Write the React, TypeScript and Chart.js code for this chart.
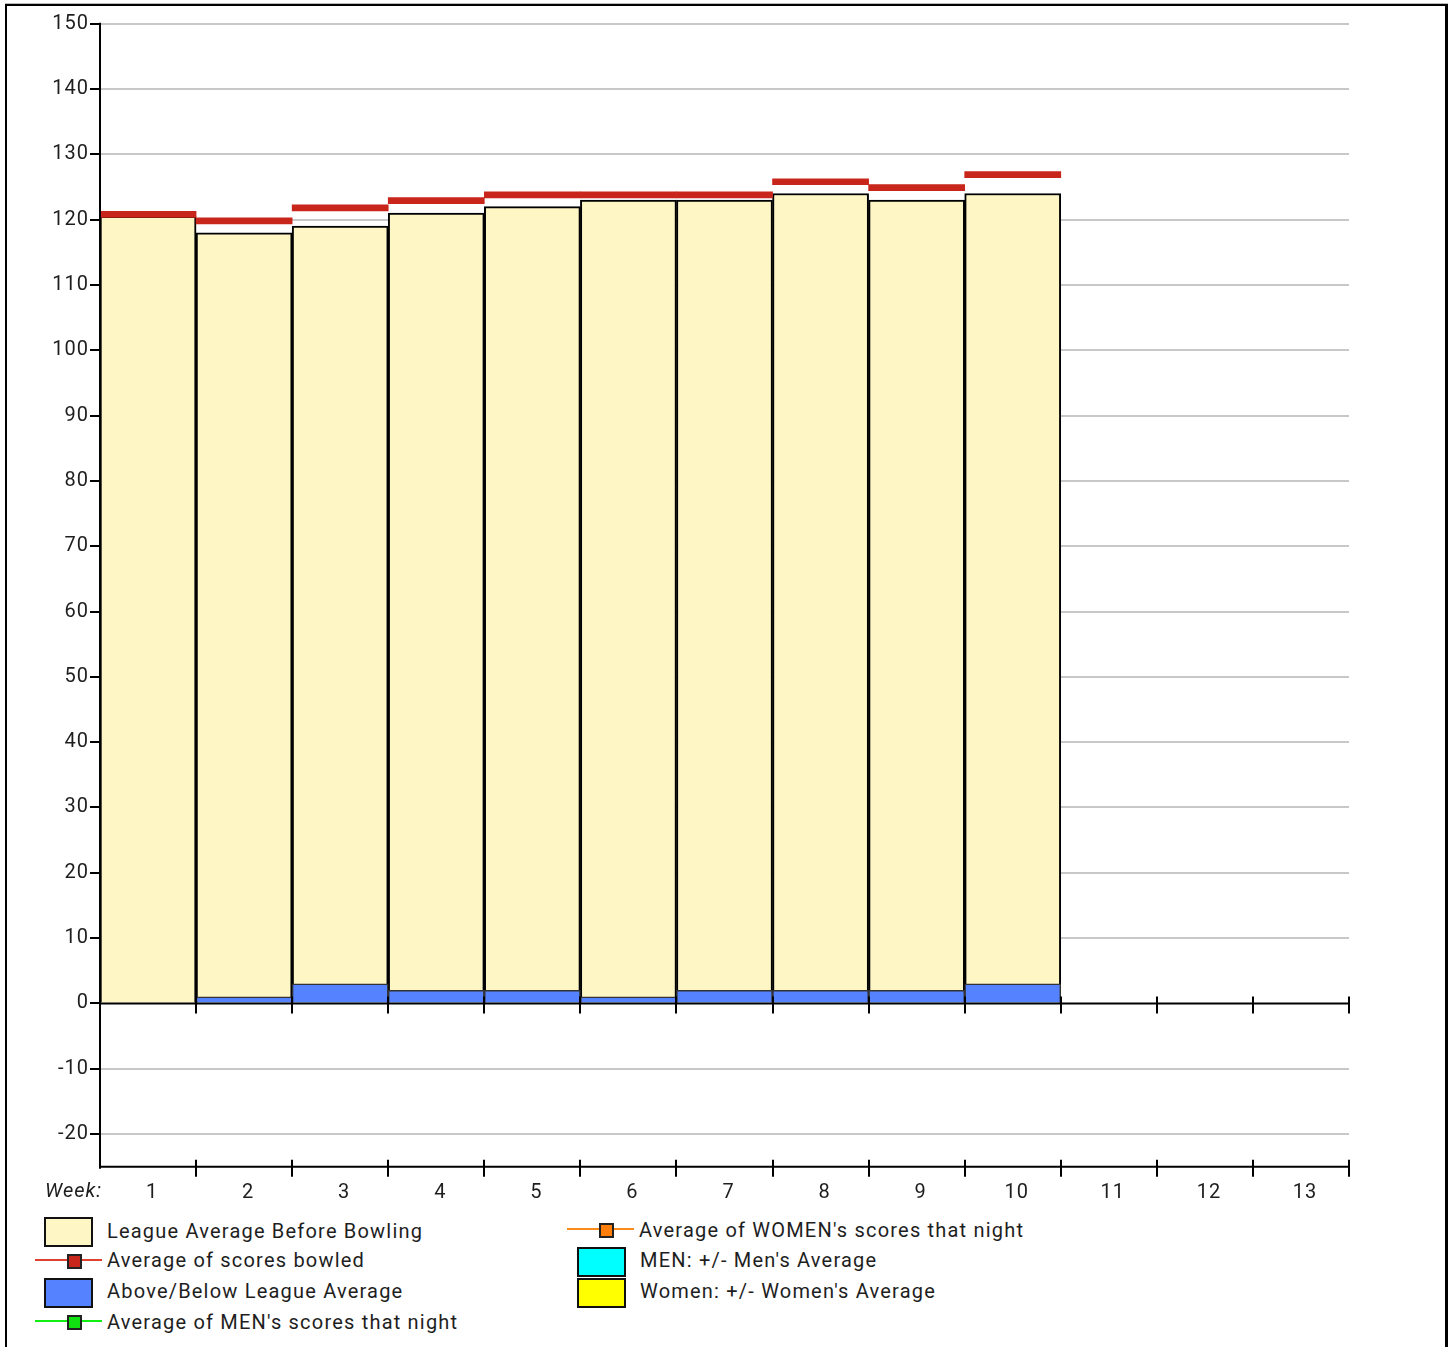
import React, { useEffect, useRef } from 'react';
import { Chart, registerables } from 'chart.js';

Chart.register(...registerables);

const weeks = ['1', '2', '3', '4', '5', '6', '7', '8', '9', '10', '11', '12', '13'];
const leagueAverage = [120.5, 118, 119, 121, 122, 123, 123, 124, 123, 124];
const scoresBowled = [120.8, 119.8, 121.8, 122.9, 123.8, 123.8, 123.8, 125.8, 124.9, 126.9];
const aboveBelow = [0, 1, 3, 2, 2, 1, 2, 2, 2, 3];
const yMin = -25;
const yMax = 150;
const yStep = 10;

const FONT = 'Roboto, "Noto Sans", sans-serif';
const TEXT = '#1e1e1e';

type LegendItem = {
  label: string;
  kind: 'box' | 'line';
  fill: string;
  line?: string;
  x: number;
  y: number;
  ty: number;
};

const legendItems: LegendItem[] = [
  { label: 'League Average Before Bowling', kind: 'box', fill: '#FFF6C6', x: 44, y: 1232, ty: 1231 },
  { label: 'Average of scores bowled', kind: 'line', fill: '#C8261A', line: '#E0402E', x: 35, y: 1261, ty: 1260 },
  { label: 'Above/Below League Average', kind: 'box', fill: '#5582FF', x: 44, y: 1293, ty: 1291 },
  { label: "Average of MEN's scores that night", kind: 'line', fill: '#11E011', line: '#11EE11', x: 35, y: 1322, ty: 1322 },
  { label: "Average of WOMEN's scores that night", kind: 'line', fill: '#FF7F0A', line: '#FF8C1A', x: 567, y: 1230, ty: 1230 },
  { label: "MEN: +/- Men's Average", kind: 'box', fill: '#00FFFF', x: 577, y: 1262, ty: 1260 },
  { label: "Women: +/- Women's Average", kind: 'box', fill: '#FFFF00', x: 577, y: 1293, ty: 1291 },
];

const spacingPlugin = {
  id: 'letterSpacing',
  beforeDraw(chart: any) {
    try {
      chart.ctx.letterSpacing = '1px';
    } catch (e) {
      /* ignore */
    }
  },
};

const axesPlugin = {
  id: 'customAxes',
  afterDatasetsDraw(chart: any) {
    const { ctx, chartArea, scales } = chart;
    const xs = scales.x;
    const ys = scales.y;
    const y0 = ys.getPixelForValue(0);
    const yb = chartArea.bottom;
    ctx.save();
    ctx.strokeStyle = '#000';
    ctx.lineWidth = 2;
    for (const yy of [y0, yb]) {
      ctx.beginPath();
      ctx.moveTo(chartArea.left, yy);
      ctx.lineTo(chartArea.right, yy);
      ctx.stroke();
      for (let i = 1; i <= weeks.length; i++) {
        const x = Math.round(xs.getPixelForValue(i - 0.5));
        ctx.beginPath();
        ctx.moveTo(x, yy - 7);
        ctx.lineTo(x, yy + 10);
        ctx.stroke();
      }
    }
    ctx.beginPath();
    ctx.moveTo(chartArea.left, chartArea.top - 1);
    ctx.lineTo(chartArea.left, yb + 2);
    ctx.stroke();
    ctx.font = 'italic 20px ' + FONT;
    ctx.fillStyle = TEXT;
    ctx.textAlign = 'left';
    ctx.textBaseline = 'middle';
    ctx.fillText('Week:', 45, 1192);
    ctx.restore();
  },
};

function ChartView() {
  const ref = useRef<HTMLCanvasElement | null>(null);
  useEffect(() => {
    if (!ref.current) return;
    const chart = new Chart(ref.current, {
      type: 'bar',
      data: {
        labels: weeks,
        datasets: [
          {
            label: 'Average of scores bowled',
            data: scoresBowled.map((v) => [v - 0.46, v + 0.46]) as any,
            backgroundColor: '#C8261A',
            borderWidth: 0,
            order: 0,
            categoryPercentage: 1,
            barPercentage: 1,
          },
          {
            label: 'Above/Below League Average',
            data: aboveBelow,
            backgroundColor: '#5582FF',
            borderColor: '#333',
            borderWidth: 1.5,
            order: 1,
            categoryPercentage: 1,
            barPercentage: 1,
          },
          {
            label: 'League Average Before Bowling',
            data: leagueAverage,
            backgroundColor: '#FFF6C6',
            borderColor: '#000',
            borderWidth: 2,
            order: 2,
            categoryPercentage: 1,
            barPercentage: 1,
          },
        ],
      },
      options: {
        animation: false,
        responsive: false,
        maintainAspectRatio: false,
        layout: { padding: { top: 23.7, right: 103, bottom: 0, left: 0 } },
        plugins: { legend: { display: false }, tooltip: { enabled: false } },
        scales: {
          x: {
            type: 'category',
            stacked: true,
            offset: true,
            grid: { display: false, drawTicks: false },
            border: { display: false },
            ticks: {
              font: { family: FONT, size: 20 },
              color: TEXT,
              padding: 14,
              labelOffset: 4,
              maxRotation: 0,
              autoSkip: false,
            },
            afterFit: (s: any) => {
              s.height = 43.3;
            },
          },
          y: {
            stacked: false,
            min: yMin,
            max: yMax,
            ticks: {
              stepSize: yStep,
              font: { family: FONT, size: 20 },
              color: TEXT,
              padding: 1,
            },
            afterBuildTicks: (s: any) => {
              s.ticks = s.ticks.filter((t: any) => t.value % yStep === 0);
            },
            grid: {
              color: (c: any) => (c.tick && c.tick.value === 0 ? 'rgba(0,0,0,0)' : '#c8c8c8'),
              lineWidth: 2,
              tickColor: '#000',
              tickWidth: 2,
              tickLength: 10,
              drawTicks: true,
            },
            border: { display: false },
            afterFit: (s: any) => {
              s.width = 100;
            },
          },
        },
      },
      plugins: [spacingPlugin, axesPlugin],
    });
    return () => chart.destroy();
  }, []);
  return (
    <canvas
      ref={ref}
      width={1452}
      height={1210}
      style={{ position: 'absolute', left: 0, top: 0, width: 1452, height: 1210 }}
    />
  );
}

function Legend() {
  return (
    <>
      {legendItems.map((it) => {
        const textX = it.kind === 'line' ? it.x + 71 : it.x + 62;
        return (
          <React.Fragment key={it.label}>
            {it.kind === 'box' ? (
              <div
                style={{
                  position: 'absolute',
                  left: it.x,
                  top: it.y - 15,
                  width: 49,
                  height: 30,
                  boxSizing: 'border-box',
                  border: '2px solid #111',
                  background: it.fill,
                }}
              />
            ) : (
              <>
                <div
                  style={{
                    position: 'absolute',
                    left: it.x,
                    top: it.y - 2,
                    width: 67,
                    height: 2,
                    background: it.line,
                  }}
                />
                <div
                  style={{
                    position: 'absolute',
                    left: it.x + 32,
                    top: it.y - 7,
                    width: 15,
                    height: 15,
                    boxSizing: 'border-box',
                    border: '2px solid #222',
                    background: it.fill,
                  }}
                />
              </>
            )}
            <div
              style={{
                position: 'absolute',
                left: textX + 1,
                top: it.ty - 13,
                height: 26,
                lineHeight: '26px',
                fontFamily: FONT,
                fontSize: 20,
                letterSpacing: '1.2px',
                color: TEXT,
                whiteSpace: 'nowrap',
              }}
            >
              {it.label}
            </div>
          </React.Fragment>
        );
      })}
    </>
  );
}

export default function App() {
  return (
    <div
      style={{
        position: 'absolute',
        left: 0,
        top: 0,
        width: 1452,
        height: 1347,
        overflow: 'hidden',
        background: '#fff',
      }}
    >
      <div
        style={{
          position: 'absolute',
          left: 5,
          top: 4,
          width: 1443,
          height: 1360,
          boxSizing: 'border-box',
          borderLeft: '2px solid #000',
          borderTop: '2px solid #000',
          borderRight: '3px solid #000',
          boxShadow: '0 -1px 0 #bbb',
          background: '#fff',
        }}
      />
      <ChartView />
      <Legend />
    </div>
  );
}
